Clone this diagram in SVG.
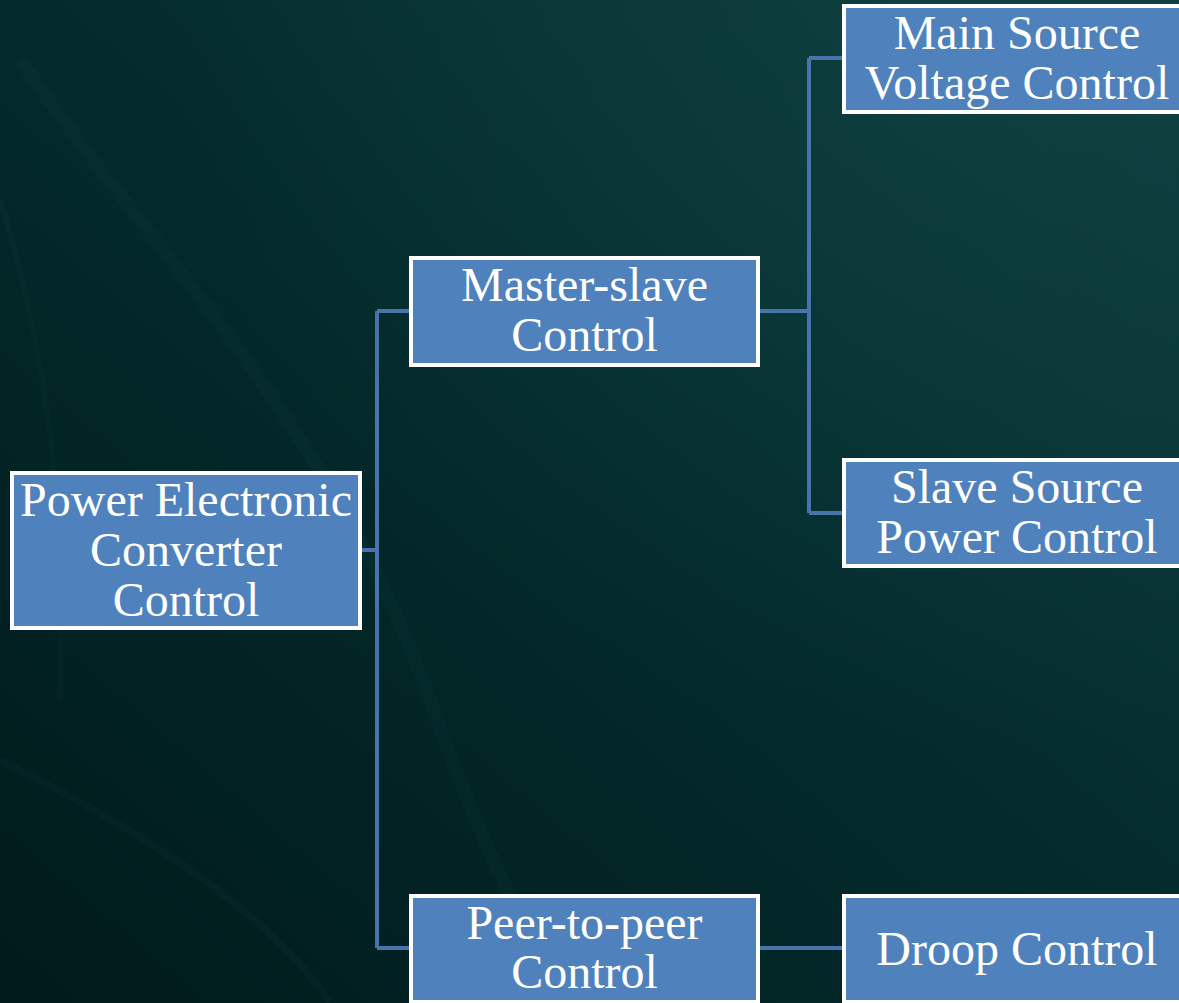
<svg xmlns="http://www.w3.org/2000/svg" width="1179" height="1003" viewBox="0 0 1179 1003">
  <defs>
    <linearGradient id="bg" x1="1" y1="0" x2="0" y2="1">
      <stop offset="0" stop-color="#0f3e3f"/>
      <stop offset="0.45" stop-color="#042c2d"/>
      <stop offset="1" stop-color="#001a1b"/>
    </linearGradient>
    <radialGradient id="glow" cx="0.85" cy="0.05" r="0.7">
      <stop offset="0" stop-color="#114443" stop-opacity="0.5"/>
      <stop offset="1" stop-color="#114443" stop-opacity="0"/>
    </radialGradient>
    <style>
      .box { fill: #4f81bd; stroke: #ffffff; stroke-width: 4; }
      text { font-family: 'Liberation Serif', 'Times New Roman', 'DejaVu Serif', serif; font-size: 48px; fill: #ffffff; text-anchor: middle; }
      .wire { fill: none; stroke: #4873ab; stroke-width: 4; stroke-linecap: butt; }
      .swoosh { fill: none; stroke: #2f6766; stroke-opacity: 0.07; }
    </style>
  </defs>

  <!-- backdrop -->
  <rect width="1179" height="1003" fill="url(#bg)"/>
  <rect width="1179" height="1003" fill="url(#glow)"/>
  <path class="swoosh" stroke-width="14" d="M20 60 C 150 250, 330 420, 430 700 S 560 960, 580 1003"/>
  <path class="swoosh" stroke-width="8" d="M0 760 C 120 820, 260 900, 330 1003"/>
  <path class="swoosh" stroke-width="6" d="M0 200 C 40 330, 70 500, 60 700"/>

  <!-- connectors -->
  <g id="connectors">
    <path class="wire" d="M362 550 H377 M377 311 V948 M377 311 H409 M377 948 H409"/>
    <path class="wire" d="M760 311 H809 M809 58 V513 M809 58 H842 M809 513 H842"/>
    <path class="wire" d="M760 948 H842"/>
  </g>

  <!-- nodes -->
  <g id="node-converter-control">
    <rect class="box" x="12" y="473" width="348" height="155"/>
    <text x="186" y="516">Power Electronic</text>
    <text x="186" y="566">Converter</text>
    <text x="186" y="616">Control</text>
  </g>

  <g id="node-master-slave">
    <rect class="box" x="411" y="258" width="347" height="107"/>
    <text x="584.5" y="301">Master-slave</text>
    <text x="584.5" y="351">Control</text>
  </g>

  <g id="node-main-source">
    <rect class="box" x="844" y="6" width="347" height="106"/>
    <text x="1017" y="49">Main Source</text>
    <text x="1017" y="99">Voltage Control</text>
  </g>

  <g id="node-slave-source">
    <rect class="box" x="844" y="460" width="347" height="106"/>
    <text x="1017" y="503">Slave Source</text>
    <text x="1017" y="553">Power Control</text>
  </g>

  <g id="node-peer-to-peer">
    <rect class="box" x="411" y="896" width="347" height="106"/>
    <text x="584.5" y="939">Peer-to-peer</text>
    <text x="584.5" y="988">Control</text>
  </g>

  <g id="node-droop">
    <rect class="box" x="844" y="896" width="347" height="106"/>
    <text x="1017" y="965">Droop Control</text>
  </g>
</svg>
